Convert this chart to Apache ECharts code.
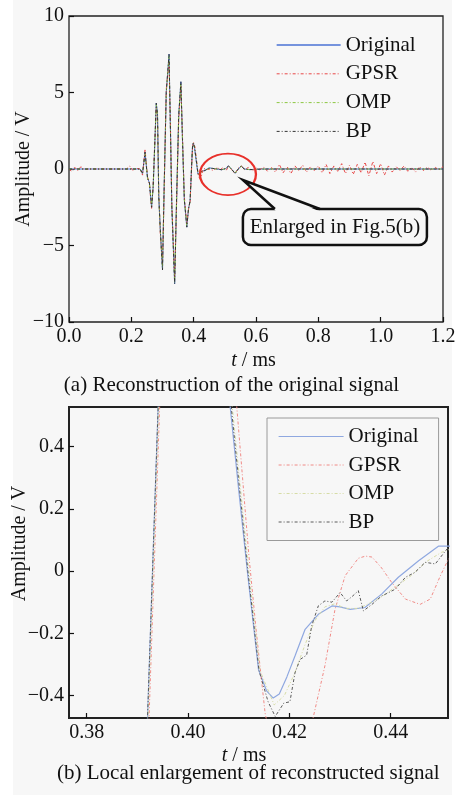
<!DOCTYPE html>
<html><head><meta charset="utf-8">
<script src="https://cdn.jsdelivr.net/npm/echarts@6/dist/echarts.min.js"></script>
<style>html,body{margin:0;padding:0;background:#fff}#c{width:463px;height:795px}</style>
</head><body><div id="c"></div>
<script>
const seriesNames = ['Original', 'GPSR', 'OMP', 'BP'];
const topXTicks = [0, 0.2, 0.4, 0.6, 0.8, 1.0, 1.2];
const topYTicks = [-10, -5, 0, 5, 10];
const botXTicks = [0.38, 0.40, 0.42, 0.44];
const botYTicks = [-0.4, -0.2, 0, 0.2, 0.4];

const original = [[0,0],[0.228,0],[0.236,-0.3],[0.244,1.1],[0.252,-0.6],[0.258,-0.9],[0.265,-2.5],[0.270,-1.2],[0.275,1.5],[0.280,4.3],[0.284,3.6],[0.288,-1.8],[0.293,-4.0],[0.300,-6.6],[0.305,-1.5],[0.312,5.0],[0.321,7.5],[0.326,2.0],[0.330,-2.5],[0.339,-7.5],[0.344,-3.0],[0.352,3.5],[0.359,5.7],[0.364,2.0],[0.370,-2.0],[0.378,-3.8],[0.3835,-2.6],[0.3885,-2.1],[0.3920,-0.47],[0.3941,0.53],[0.3965,1.55],[0.3990,1.7],[0.4030,1.35],[0.4083,0.53],[0.4100,0.26],[0.4117,0],[0.4139,-0.316],[0.4155,-0.385],[0.4168,-0.408],[0.4180,-0.395],[0.4195,-0.34],[0.4211,-0.273],[0.4231,-0.187],[0.4257,-0.139],[0.4284,-0.112],[0.4300,-0.115],[0.4320,-0.123],[0.4349,-0.117],[0.4382,-0.074],[0.4415,-0.02],[0.4455,0.033],[0.4494,0.08],[0.4520,0.08],[0.460,0.04],[0.475,0],[0.490,-0.05],[0.503,0.03],[0.512,0.2],[0.521,0],[0.533,-0.28],[0.543,0],[0.553,0.2],[0.562,0],[0.58,-0.04],[0.62,0],[1.2,0]];

const gpsr = [[0,0],[0.008,-0.15],[0.018,0.12],[0.028,-0.1],[0.038,0.15],[0.05,-0.05],[0.06,0],[0.185,0],[0.195,0.2],[0.205,-0.1],[0.215,0.05],[0.228,0],[0.236,-0.4],[0.244,1.3],[0.252,-0.5],[0.258,-1.0],[0.265,-2.6],[0.270,-1.0],[0.275,1.7],[0.280,4.0],[0.284,3.3],[0.288,-1.5],[0.293,-4.3],[0.300,-6.2],[0.305,-1.8],[0.312,5.2],[0.321,7.0],[0.326,2.3],[0.330,-2.2],[0.339,-7.2],[0.344,-3.3],[0.352,3.2],[0.359,5.5],[0.364,2.3],[0.370,-1.8],[0.378,-3.6],[0.3838,-2.6],[0.3888,-2.1],[0.3923,-0.47],[0.3944,0.53],[0.3968,1.5],[0.3995,1.75],[0.4040,1.45],[0.4096,0.53],[0.4120,0.05],[0.4135,-0.2],[0.4152,-0.456],[0.4165,-0.56],[0.4195,-0.62],[0.4225,-0.58],[0.4247,-0.47],[0.4270,-0.305],[0.4290,-0.123],[0.4310,-0.015],[0.4336,0.041],[0.4350,0.048],[0.4363,0.045],[0.4382,0.01],[0.4402,-0.037],[0.4429,-0.09],[0.4458,-0.107],[0.4478,-0.09],[0.4498,-0.015],[0.4514,0.039],[0.4535,0.07],[0.465,-0.1],[0.475,0.12],[0.485,-0.05],[0.495,0.1],[0.505,-0.08],[0.512,0.2],[0.522,-0.05],[0.533,-0.3],[0.543,0.05],[0.553,0.2],[0.563,-0.05],[0.575,0.1],[0.588,-0.12],[0.600,0.08],[0.612,-0.05],[0.625,0.12],[0.637,-0.15],[0.650,0.1],[0.662,-0.2],[0.675,0.3],[0.687,-0.25],[0.700,0.15],[0.712,-0.3],[0.725,0.2],[0.737,-0.1],[0.750,0.25],[0.762,-0.2],[0.775,0.15],[0.787,-0.1],[0.800,0.2],[0.812,-0.25],[0.825,0.3],[0.837,-0.3],[0.850,0.2],[0.862,-0.15],[0.875,0.35],[0.887,-0.3],[0.900,0.25],[0.912,-0.35],[0.925,0.3],[0.937,-0.25],[0.950,0.45],[0.962,-0.45],[0.975,0.5],[0.987,-0.3],[1.000,0.35],[1.012,-0.4],[1.025,0.2],[1.037,-0.2],[1.050,0.15],[1.062,-0.1],[1.075,0.2],[1.087,-0.15],[1.100,0.1],[1.112,-0.2],[1.125,0.15],[1.137,-0.1],[1.150,0.12],[1.162,-0.08],[1.175,0.1],[1.187,-0.05],[1.200,0.15]];

const omp = [[0,0],[0.228,0],[0.236,-0.3],[0.244,1.0],[0.252,-0.6],[0.258,-0.9],[0.265,-2.4],[0.270,-1.2],[0.275,1.5],[0.280,4.2],[0.284,3.6],[0.288,-1.8],[0.293,-4.0],[0.300,-6.5],[0.305,-1.5],[0.312,5.0],[0.321,7.4],[0.326,2.0],[0.330,-2.5],[0.339,-7.4],[0.344,-3.0],[0.352,3.5],[0.359,5.6],[0.364,2.0],[0.370,-2.0],[0.378,-3.7],[0.3836,-2.6],[0.3886,-2.1],[0.3921,-0.47],[0.3942,0.53],[0.3966,1.55],[0.3992,1.7],[0.4035,1.35],[0.4087,0.53],[0.4120,0],[0.4142,-0.32],[0.4170,-0.43],[0.4190,-0.40],[0.4210,-0.33],[0.4230,-0.24],[0.4250,-0.16],[0.4270,-0.115],[0.4290,-0.105],[0.4310,-0.12],[0.4335,-0.12],[0.4350,-0.11],[0.4380,-0.085],[0.4410,-0.05],[0.4440,-0.015],[0.4470,0.03],[0.4500,0.06],[0.4525,0.075],[0.460,0.04],[0.475,0],[0.490,-0.05],[0.503,0.03],[0.512,0.18],[0.521,0],[0.533,-0.26],[0.543,0],[0.553,0.18],[0.562,0],[0.58,-0.04],[0.62,0],[1.2,0]];

const bp = [[0,0],[0.228,0],[0.236,-0.3],[0.244,1.1],[0.252,-0.6],[0.258,-0.9],[0.265,-2.5],[0.270,-1.2],[0.275,1.5],[0.280,4.3],[0.284,3.6],[0.288,-1.8],[0.293,-4.0],[0.300,-6.6],[0.305,-1.5],[0.312,5.0],[0.321,7.5],[0.326,2.0],[0.330,-2.5],[0.339,-7.5],[0.344,-3.0],[0.352,3.5],[0.359,5.7],[0.364,2.0],[0.370,-2.0],[0.378,-3.8],[0.3834,-2.6],[0.3884,-2.1],[0.3920,-0.47],[0.3941,0.53],[0.3965,1.55],[0.3990,1.7],[0.4032,1.35],[0.4085,0.53],[0.4118,0],[0.4140,-0.32],[0.4158,-0.42],[0.4172,-0.467],[0.4189,-0.424],[0.4201,-0.42],[0.4211,-0.327],[0.4221,-0.284],[0.4234,-0.27],[0.4244,-0.176],[0.4257,-0.112],[0.4270,-0.096],[0.4284,-0.10],[0.4300,-0.069],[0.4313,-0.096],[0.4325,-0.08],[0.4336,-0.063],[0.4346,-0.128],[0.4363,-0.107],[0.4382,-0.08],[0.4395,-0.07],[0.4409,-0.058],[0.4429,-0.02],[0.4448,-0.004],[0.4468,0.028],[0.4488,0.023],[0.4511,0.071],[0.4530,0.08],[0.460,0.04],[0.475,0],[0.490,-0.05],[0.503,0.03],[0.512,0.2],[0.521,0],[0.533,-0.3],[0.543,0],[0.553,0.2],[0.562,0],[0.58,-0.04],[0.62,0],[1.2,0]];

const seriesData = [original, gpsr, omp, bp];

const FONT = '"Liberation Serif", "Times New Roman", serif';
const BG = '#f7f7f7';
const minus = s => String(s).replace('-', '\u2212');

const topStyles = [
  {color: '#4a72d4', type: 'solid', width: 1},
  {color: '#e84848', type: [3, 2, 1, 2], width: 1},
  {color: '#8cc640', type: [3, 2, 1, 2], width: 1},
  {color: '#333333', type: [3, 2, 1, 2], width: 1}
];
const botStyles = [
  {color: '#8fa8e0', type: 'solid', width: 1.2},
  {color: '#f08a86', type: [3, 2, 1, 2], width: 1},
  {color: '#d6dca6', type: [3, 2, 1, 2], width: 1},
  {color: '#5a5a5a', type: [3, 2, 1, 2], width: 1}
];
const copy = o => JSON.parse(JSON.stringify(o));

function axisCommon(ticks, fmt) {
  return {
    nameMoveOverlap: false,
    axisLine: {show: false, onZero: false},
    axisTick: {show: true, inside: true, length: 5, lineStyle: {color: '#111', width: 1.2}, customValues: ticks},
    axisLabel: {customValues: ticks, formatter: fmt, fontFamily: FONT, fontSize: 20, color: '#111', margin: 5},
    splitLine: {show: false}
  };
}

const series = [];
seriesNames.forEach((n, i) => {
  series.push({name: n, type: 'line', xAxisIndex: 0, yAxisIndex: 0, data: seriesData[i],
    symbol: 'none', showSymbol: false, itemStyle: {color: topStyles[i].color}, lineStyle: copy(topStyles[i]), clip: true, z: 2 + i});
});
seriesNames.forEach((n, i) => {
  series.push({name: n, type: 'line', xAxisIndex: 1, yAxisIndex: 1, data: seriesData[i],
    symbol: 'none', showSymbol: false, itemStyle: {color: botStyles[i].color}, lineStyle: copy(botStyles[i]), clip: true, z: 2 + i});
});

const topLegendStyles = topStyles.map(s => Object.assign(copy(s), {width: s.type === 'solid' ? 1.3 : 1}));

const option = {
  animation: false,
  backgroundColor: '#ffffff',
  textStyle: {fontFamily: FONT},
  graphic: [
    {id: 'panel', type: 'rect', z: -100, silent: true, shape: {x: 13, y: 0, width: 439, height: 795}, style: {fill: BG}},
    {id: 'capA', type: 'text', left: 'center', top: 375, style: {text: '(a) Reconstruction of the original signal', font: '21px ' + FONT, fill: '#111'}},
    {id: 'capB', type: 'text', left: 57, top: 763, style: {text: '(b) Local enlargement of reconstructed signal', font: '21px ' + FONT, fill: '#111'}}
  ],
  grid: [
    {left: 69, right: 20, top: 16, bottom: 473, show: true, borderColor: '#222', borderWidth: 1.3, backgroundColor: 'transparent', outerBoundsMode: 'none', containLabel: false},
    {left: 69, right: 15, top: 407, bottom: 77, show: true, borderColor: '#222', borderWidth: 2, backgroundColor: 'transparent', outerBoundsMode: 'none', containLabel: false}
  ],
  xAxis: [
    Object.assign({type: 'value', gridIndex: 0, min: 0, max: 1.2,
      name: '{i|t} / ms', nameLocation: 'middle', nameGap: 29,
      nameTextStyle: {fontFamily: FONT, fontSize: 20, color: '#111', padding: [0, 5, 0, 0], rich: {i: {fontStyle: 'italic', fontFamily: FONT, fontSize: 20}}}},
      axisCommon(topXTicks, v => v.toFixed(1))),
    Object.assign({type: 'value', gridIndex: 1, min: 0.3765, max: 0.4513,
      name: '{i|t} / ms', nameLocation: 'middle', nameGap: 28,
      nameTextStyle: {fontFamily: FONT, fontSize: 20, color: '#111', padding: [0, 29, 0, 0], rich: {i: {fontStyle: 'italic', fontFamily: FONT, fontSize: 20}}}},
      axisCommon(botXTicks, v => v.toFixed(2)))
  ],
  yAxis: [
    Object.assign({type: 'value', gridIndex: 0, min: -10, max: 10,
      name: 'Amplitude / V', nameLocation: 'middle', nameGap: 35,
      nameTextStyle: {fontFamily: FONT, fontSize: 20, color: '#111'}},
      axisCommon(topYTicks, v => minus(v))),
    Object.assign({type: 'value', gridIndex: 1, min: -0.472, max: 0.527,
      name: 'Amplitude / V', nameLocation: 'middle', nameGap: 39,
      nameTextStyle: {fontFamily: FONT, fontSize: 20, color: '#111', padding: [0, 0, 0, 38]}},
      axisCommon(botYTicks, v => v === 0 ? '0' : minus(v.toFixed(1))))
  ],
  legend: [
    {orient: 'vertical', left: 276, top: 34.5, padding: 0, itemWidth: 64, itemHeight: 10, itemGap: 7.8,
      textStyle: {fontFamily: FONT, fontSize: 21, color: '#111'},
      data: seriesNames.map((n, i) => ({name: n, lineStyle: topLegendStyles[i], itemStyle: {opacity: 0}}))},
    {orient: 'vertical', left: 267, top: 418, itemWidth: 65, itemHeight: 10, itemGap: 7.5,
      padding: [8, 20, 8, 11], borderColor: '#9a9a9a', borderWidth: 1, backgroundColor: BG,
      textStyle: {fontFamily: FONT, fontSize: 21, color: '#111'},
      data: seriesNames.map((n, i) => ({name: n, lineStyle: copy(botStyles[i]), itemStyle: {opacity: 0}}))}
  ],
  series: series
};

const chart = echarts.init(document.getElementById('c'), null, {renderer: 'canvas'});
chart.setOption(option);

// annotations anchored to the top chart's data coordinates
const ec = chart.convertToPixel({gridIndex: 0}, [0.51, -0.35]);
const ap = chart.convertToPixel({gridIndex: 0}, [0.558, -0.72]);
const bx = ap[0], by = ap[1] + 29, bw = 184, bh = 36;
chart.setOption({graphic: [
  {id: 'ellipse', type: 'circle', z: 50, x: ec[0], y: ec[1], scaleX: 28 / 20.7, shape: {cx: 0, cy: 0, r: 20.7}, style: {fill: 'none', stroke: '#e8302a', lineWidth: 1.7}},
  {id: 'box', type: 'rect', z: 50, shape: {x: bx, y: by, width: bw, height: bh, r: 8}, style: {fill: BG, stroke: '#111', lineWidth: 2.5}},
  {id: 'gap', type: 'polygon', z: 51, shape: {points: [[bx + 33, by + 2], ap, [bx + 76, by + 2]]}, style: {fill: BG}},
  {id: 'ptr', type: 'polyline', z: 52, shape: {points: [[bx + 32, by], ap, [bx + 77, by]]}, style: {fill: 'none', stroke: '#111', lineWidth: 2.5}},
  {id: 'btext', type: 'text', z: 53, x: bx + bw / 2, y: by + bh / 2, style: {text: 'Enlarged in Fig.5(b)', font: '21px ' + FONT, fill: '#111', align: 'center', verticalAlign: 'middle'}}
]});
</script></body></html>
